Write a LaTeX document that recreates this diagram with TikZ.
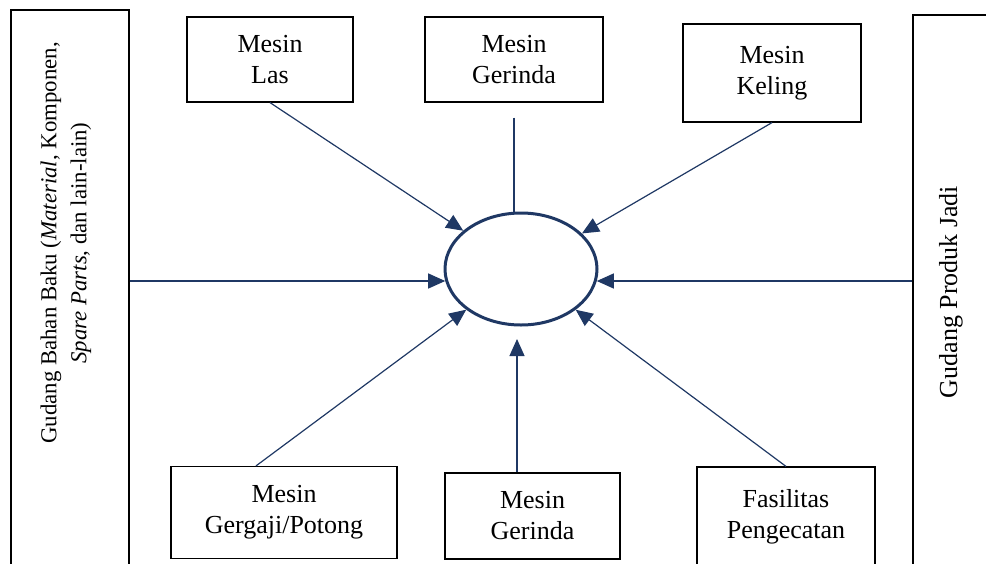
\documentclass[tikz,border=0pt]{standalone}
\usepackage{fontspec}
\setmainfont{Liberation Serif}
\usetikzlibrary{arrows.meta,shapes.geometric}
\definecolor{navy}{HTML}{1F3864}

\begin{document}
\begin{tikzpicture}[x=0.5pt,y=-0.5pt,
    box/.style={draw, line width=0.6pt, rectangle, align=center, inner sep=0pt, font=\fontsize{13}{15.5}\selectfont},
    txt/.style={align=center, inner sep=0pt, font=\fontsize{13}{15.5}\selectfont},
    conn/.style={draw=navy, line width=0.6pt},
    arr/.style={conn, -{Triangle[length=8.5pt,width=7.5pt]}}]

    \useasboundingbox (0,0) rectangle (986,563);
    \clip (0,0) rectangle (986,563);

    \node[ellipse, draw=navy, line width=1.5pt, minimum width=76pt, minimum height=56pt, inner sep=0pt] (e) at (521,269) {};

    \node[box, minimum width=83pt, minimum height=42.5pt] (a) at (270,59.5) {Mesin\\Las};
    \node[box, minimum width=89pt, minimum height=42.5pt] (b) at (514,59.5) {Mesin\\Gerinda};
    \node[box, minimum width=89pt, minimum height=49pt] (c) at (772,73) {Mesin\\Keling};
    \node[box, minimum width=113pt, minimum height=46pt] (d) at (284,512.5) {Mesin\\Gergaji/Potong};
    \node[box, minimum width=87.5pt, minimum height=43pt] (f) at (532.5,516) {Mesin\\Gerinda};
    \node[box, minimum width=89pt, minimum height=50pt] (g) at (786,517) {Fasilitas\\Pengecatan};

    \node[box, minimum width=59pt, minimum height=285pt] (l) at (70,295) {};
    \node[txt, rotate=90, font=\fontsize{11.4}{15}\selectfont] (lt) at (66,243) {Gudang Bahan Baku (\textit{Material}, Komponen,\\\textit{Spare Parts}, dan lain-lain)};
    \node[box, minimum width=43.5pt, minimum height=282.5pt] (r) at (956.5,297.5) {};
    \node[txt, rotate=90] (rt) at (951,292) {Gudang Produk Jadi};

    \coordinate (ft) at (517,339);

    \draw[arr] (a.south) -- (e);
    \draw[conn] ([yshift=-7.5pt]b.south) -- (e.north -| b.south);
    \draw[arr] (c.south) -- (e);
    \draw[arr] (l.east |- e.189) -- (e.189);
    \draw[arr] (r.west |- e.351) -- (e.351);
    \draw[arr] ([xshift=-14pt]d.north) -- (e);
    \draw[arr] (f.north -| ft) -- (ft);
    \draw[arr] (g.north) -- (e);

\end{tikzpicture}
\end{document}
